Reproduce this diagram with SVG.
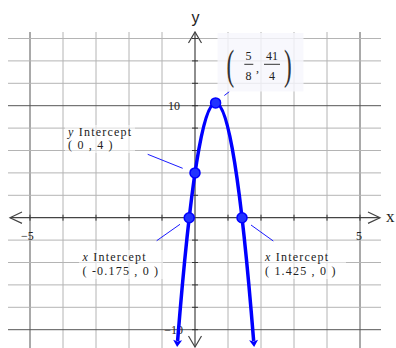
<svg xmlns="http://www.w3.org/2000/svg" width="396" height="348" viewBox="0 0 396 348">
<style>
.minor{stroke:#b4b4b4;stroke-width:1;fill:none}
.major{stroke:#555;stroke-width:1;fill:none}
.axis{stroke:#444;stroke-width:1.2;fill:none}
.tick{stroke:#333;stroke-width:1;fill:none}
.lbl{font-family:'Liberation Serif','Times New Roman',serif;font-size:12px;fill:#222;letter-spacing:1.2px}
.num{font-family:'Liberation Serif','Times New Roman',serif;font-size:12px;fill:#222}
.frac{font-family:'Liberation Serif','Times New Roman',serif;font-size:12px;fill:#222;text-anchor:middle}
.curve{stroke:#0000ff;stroke-width:3.5;fill:none}
.lead{stroke:#1a1aff;stroke-width:1;fill:none}
.dot{fill:#2233ff;stroke:#0000ff;stroke-width:1.5}
.bg{fill:#ffffff;fill-opacity:0.55}
</style>
<defs>
<marker id="ah" markerUnits="userSpaceOnUse" markerWidth="12" markerHeight="12" viewBox="-1 -6 10 12" refX="1" refY="0" orient="auto-start-reverse">
<path d="M0,-4.5 L7,0 L0,4.5 L1.5,0 z" fill="#0000ff"/>
</marker>
</defs>
<rect width="396" height="348" fill="#ffffff"/>
<g id="grid">
<path class="minor" d="M63,32V348M96,32V348M129,32V348M162,32V348M228,32V348M261,32V348M294,32V348M327,32V348"/>
<path class="major" d="M30,32V348M360,32V348"/>
<path class="minor" d="M8,38.5H381M8,60.9H381M8,83.3H381M8,128.1H381M8,150.5H381M8,172.9H381M8,195.3H381M8,240.1H381M8,262.5H381M8,284.9H381M8,307.3H381"/>
<path class="major" d="M8,105.7H381M8,329.7H381"/>
</g>
<g id="axes">
<path class="axis" d="M10,217.7H380M195,32V347"/>
<path class="axis" d="M22,212 L10,217.7 L22,223.4M368,212 L380,217.7 L368,223.4M188.5,43 L195,32 L201.5,43M188.5,336 L195,347 L201.5,336"/>
<path class="tick" d="M30,214.7v6M63,214.7v6M96,214.7v6M129,214.7v6M162,214.7v6M228,214.7v6M261,214.7v6M294,214.7v6M327,214.7v6M360,214.7v6"/>
<path class="tick" d="M192,38.5h6M192,60.9h6M192,83.3h6M192,105.7h6M192,128.1h6M192,150.5h6M192,172.9h6M192,195.3h6M192,240.1h6M192,262.5h6M192,284.9h6M192,307.3h6M192,329.7h6"/>
<text x="195.5" y="23" font-family="'Liberation Sans',sans-serif" font-size="16" fill="#222" text-anchor="middle">y</text>
<text x="386" y="222" font-family="'Liberation Serif',serif" font-size="17" fill="#222">x</text>
<text class="num" x="180" y="110" text-anchor="end">10</text>
<text class="num" x="21" y="240">−5</text>
<text class="num" x="356" y="240">5</text>
<text class="num" x="183" y="334" text-anchor="end">−10</text>
</g>
<g id="connectors">
<path class="lead" d="M147.7,154.3 L182.7,168.3"/>
<path class="lead" d="M224.3,95.5 L229.3,91.7"/>
<path class="lead" d="M156.7,240.7 L180,224.3"/>
<path class="lead" d="M251,225 L273.3,241"/>
</g>
<g id="parabola">
<path class="curve" d="M177.59,341 Q215.625,-135.2 253.66,341" marker-start="url(#ah)" marker-end="url(#ah)"/>
</g>
<g id="vertex">
<circle class="dot" cx="215.6" cy="102.9" r="5"/>
<rect x="217.5" y="33" width="86" height="58.5" fill="#f6f6fd" fill-opacity="0.8"/>
<text x="0" y="0" font-family="'Liberation Serif',serif" font-size="42" fill="#333" transform="translate(226.5,78.5) scale(0.55,1)">(</text>
<text x="0" y="0" font-family="'Liberation Serif',serif" font-size="42" fill="#333" transform="translate(284,78.5) scale(0.55,1)">)</text>
<text class="frac" x="248.5" y="60">5</text>
<path d="M244.3,64.3H253.3M264,64.3H280" stroke="#333" stroke-width="1"/>
<text class="frac" x="248.5" y="80">8</text>
<text class="frac" x="257.5" y="72">,</text>
<text class="frac" x="272" y="60">41</text>
<text class="frac" x="272" y="80">4</text>
</g>
<g id="y-intercept">
<circle class="dot" cx="195" cy="172.9" r="5"/>
<rect class="bg" x="65" y="125" width="70" height="28"/>
<text class="lbl" x="68" y="135.5"><tspan font-style="italic">y</tspan> Intercept</text>
<text class="lbl" x="68" y="149">( 0 , 4 )</text>
</g>
<g id="x-intercept-left">
<circle class="dot" cx="189.2" cy="217.7" r="5"/>
<rect class="bg" x="79" y="250" width="84" height="29"/>
<text class="lbl" x="82.5" y="260.7"><tspan font-style="italic">x</tspan> Intercept</text>
<text class="lbl" x="82.5" y="275">( -0.175 , 0 )</text>
</g>
<g id="x-intercept-right">
<circle class="dot" cx="242" cy="217.7" r="5"/>
<rect class="bg" x="262" y="250" width="84" height="29"/>
<text class="lbl" x="265" y="260.7"><tspan font-style="italic">x</tspan> Intercept</text>
<text class="lbl" x="265" y="275">( 1.425 , 0 )</text>
</g>
</svg>
